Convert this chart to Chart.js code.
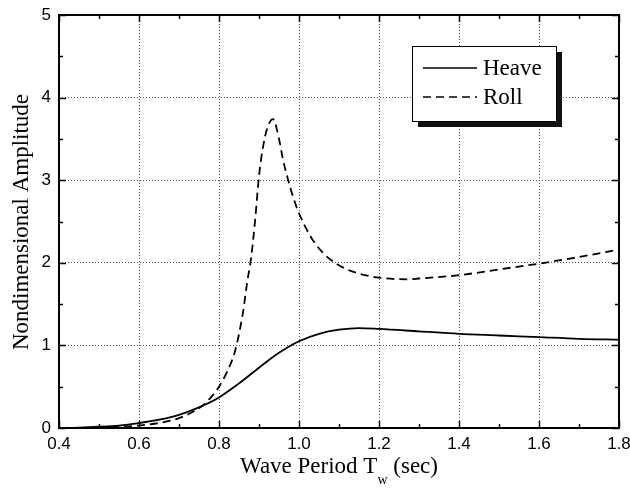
<!DOCTYPE html>
<html>
<head>
<meta charset="utf-8">
<script src="https://cdn.jsdelivr.net/npm/chart.js@4"></script>
<style>
    html, body { margin: 0; padding: 0; background: #fff; }
    #wrap { width: 630px; height: 488px; }
</style>
</head>
<body>
<div id="wrap"><canvas id="ampChart" width="630" height="488"></canvas></div>
<script>
// wave period (sec) and nondimensional amplitude
const heavePeriod = [0.40, 0.45, 0.50, 0.55, 0.60, 0.65, 0.70, 0.75, 0.80, 0.85, 0.90, 0.95, 1.00, 1.05, 1.10, 1.15, 1.20, 1.30, 1.40, 1.50, 1.60, 1.70, 1.80];
const heaveAmp = [0, 0.005, 0.015, 0.03, 0.06, 0.10, 0.16, 0.25, 0.37, 0.54, 0.73, 0.91, 1.05, 1.14, 1.19, 1.21, 1.20, 1.17, 1.14, 1.12, 1.10, 1.08, 1.07];

const rollPeriod = [0.40, 0.50, 0.60, 0.65, 0.70, 0.75, 0.78, 0.80, 0.82, 0.84, 0.86, 0.87, 0.88, 0.89, 0.90, 0.91, 0.92, 0.935, 0.95, 0.96, 0.973, 0.985, 1.00, 1.03, 1.06, 1.09, 1.12, 1.15, 1.20, 1.27, 1.30, 1.40, 1.50, 1.60, 1.70, 1.80];
const rollAmp = [0, 0.005, 0.03, 0.06, 0.12, 0.24, 0.37, 0.50, 0.68, 0.93, 1.40, 1.75, 2.05, 2.50, 3.05, 3.40, 3.62, 3.74, 3.50, 3.25, 3.00, 2.80, 2.60, 2.31, 2.12, 2.00, 1.92, 1.87, 1.82, 1.80, 1.81, 1.85, 1.92, 1.99, 2.07, 2.16];

const xTicks = [0.4, 0.6, 0.8, 1.0, 1.2, 1.4, 1.6, 1.8];
const yTicks = [0, 1, 2, 3, 4, 5];
const seriesNames = ['Heave', 'Roll'];

function toPoints(xs, ys) {
    return xs.map((x, i) => ({x: x, y: ys[i]}));
}

const serif = '"Liberation Serif", "Times New Roman", serif';

// frame, inward ticks, legend box and axis titles
const decorPlugin = {
    id: 'decor',
    afterDraw(chart) {
        const ctx = chart.ctx;
        const a = chart.chartArea;
        const xs = chart.scales.x, ys = chart.scales.y;
        ctx.save();
        ctx.strokeStyle = '#000';
        ctx.lineWidth = 1.5;
        // minor / major ticks
        for (let v = xTicks[0]; v <= xTicks[xTicks.length - 1] + 1e-6; v += 0.1) {
            const px = Math.round(xs.getPixelForValue(v)) + 0.5;
            const major = Math.abs(Math.round(v * 5) - v * 5) < 1e-6;
            const len = major ? 7 : 4;
            ctx.beginPath();
            ctx.moveTo(px, a.bottom); ctx.lineTo(px, a.bottom - len);
            ctx.moveTo(px, a.top); ctx.lineTo(px, a.top + len);
            ctx.stroke();
        }
        for (let v = 0; v <= 5; v += 0.5) {
            const py = Math.round(ys.getPixelForValue(v)) + 0.5;
            const len = (v % 1 === 0) ? 7 : 4;
            ctx.beginPath();
            ctx.moveTo(a.left, py); ctx.lineTo(a.left + len, py);
            ctx.moveTo(a.right, py); ctx.lineTo(a.right - len, py);
            ctx.stroke();
        }
        ctx.lineWidth = 2;
        ctx.strokeRect(a.left, a.top, a.right - a.left, a.bottom - a.top);

        // legend with drop shadow
        const bx = 412, by = 46, bw = 144, bh = 75;
        ctx.fillStyle = '#111';
        ctx.fillRect(bx + 6, by + 6, bw, bh);
        ctx.fillStyle = '#fff';
        ctx.fillRect(bx, by, bw, bh);
        ctx.lineWidth = 1;
        ctx.strokeRect(bx + 0.5, by + 0.5, bw, bh);
        ctx.font = '23px ' + serif;
        ctx.textBaseline = 'middle';
        ctx.textAlign = 'left';
        chart.data.datasets.forEach((ds, i) => {
            const ly = by + 22 + i * 29;
            ctx.lineWidth = 1.6;
            ctx.setLineDash(ds.borderDash || []);
            ctx.beginPath();
            ctx.moveTo(bx + 11, ly); ctx.lineTo(bx + 65, ly);
            ctx.stroke();
            ctx.setLineDash([]);
            ctx.fillStyle = '#000';
            ctx.fillText(ds.label, bx + 71, ly + 1);
        });

        // x axis title with subscript
        ctx.textBaseline = 'alphabetic';
        const part1 = 'Wave Period T', sub = 'w', part2 = ' (sec)';
        ctx.font = '23px ' + serif;
        const w1 = ctx.measureText(part1).width, w3 = ctx.measureText(part2).width;
        ctx.font = '14px ' + serif;
        const w2 = ctx.measureText(sub).width;
        let sx = 339 - (w1 + w2 + w3) / 2;
        ctx.font = '23px ' + serif;
        ctx.fillText(part1, sx, 473);
        ctx.font = '14px ' + serif;
        ctx.fillText(sub, sx + w1, 484);
        ctx.font = '23px ' + serif;
        ctx.fillText(part2, sx + w1 + w2, 473);

        // y axis title
        ctx.translate(22, 222);
        ctx.rotate(-Math.PI / 2);
        ctx.textAlign = 'center';
        ctx.textBaseline = 'middle';
        ctx.fillText('Nondimensional Amplitude', 0, 0);
        ctx.restore();
    }
};

const gridStyle = {color: '#555', lineWidth: 1, drawTicks: false};
const borderStyle = {display: false, dash: [1, 2]};
const tickFont = {family: '"Liberation Sans", Arial, sans-serif', size: 17};

document.addEventListener('DOMContentLoaded', function () {
    let ctx = document.getElementById('ampChart').getContext('2d');
    new Chart(ctx, {
        type: 'line',
        data: {
            datasets: [{
                label: seriesNames[0],
                data: toPoints(heavePeriod, heaveAmp),
                borderColor: '#000',
                borderWidth: 1.8,
                pointRadius: 0,
                cubicInterpolationMode: 'monotone',
                fill: false
            }, {
                label: seriesNames[1],
                data: toPoints(rollPeriod, rollAmp),
                borderColor: '#000',
                borderWidth: 1.8,
                borderDash: [8, 5],
                pointRadius: 0,
                cubicInterpolationMode: 'monotone',
                fill: false
            }]
        },
        options: {
            responsive: false,
            animation: false,
            events: [],
            layout: {padding: {top: 15, right: 11, left: 0, bottom: 0}},
            plugins: {
                legend: {display: false},
                tooltip: {enabled: false}
            },
            scales: {
                x: {
                    type: 'linear',
                    min: 0.4,
                    max: 1.8,
                    afterFit(scale) {
                        scale.height = 60;
                        scale.paddingLeft = 0;
                        scale.paddingRight = 0;
                    },
                    afterBuildTicks(scale) { scale.ticks = xTicks.map(v => ({value: v})); },
                    grid: gridStyle,
                    border: borderStyle,
                    ticks: {
                        padding: 6,
                        color: '#000',
                        font: tickFont,
                        maxRotation: 0,
                        callback: v => Number(v).toFixed(1)
                    }
                },
                y: {
                    min: 0,
                    max: 5,
                    afterFit(scale) {
                        scale.width = 59;
                        scale.paddingTop = 0;
                        scale.paddingBottom = 0;
                    },
                    afterBuildTicks(scale) { scale.ticks = yTicks.map(v => ({value: v})); },
                    grid: gridStyle,
                    border: borderStyle,
                    ticks: {
                        padding: 8,
                        color: '#000',
                        font: tickFont,
                        callback: v => String(v)
                    }
                }
            }
        },
        plugins: [decorPlugin]
    });
});
</script>
</body>
</html>
